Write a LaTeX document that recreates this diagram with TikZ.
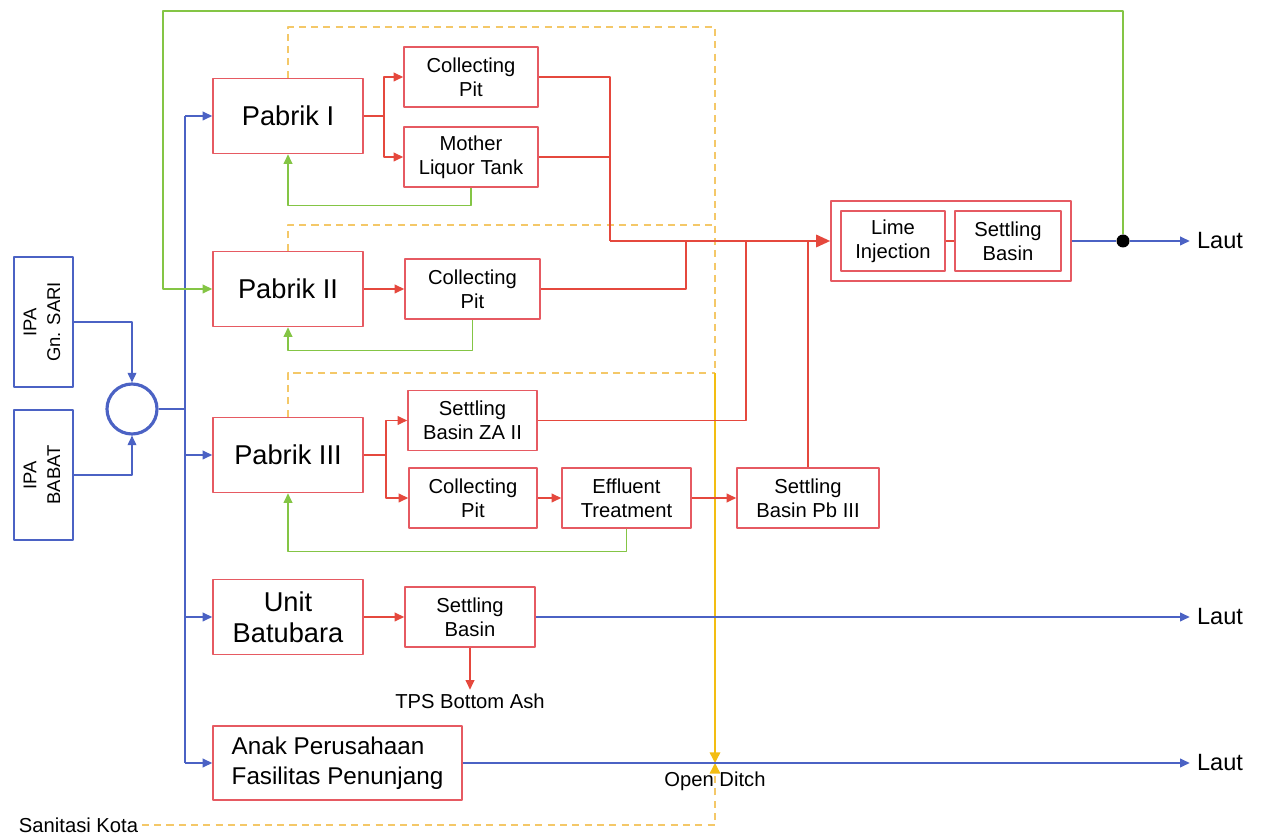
\documentclass[tikz,border=0pt]{standalone}
\usepackage{fontspec}
\setmainfont{Liberation Sans}
\usetikzlibrary{arrows.meta,positioning}

\definecolor{boxred}{HTML}{E65A62}
\definecolor{flowred}{HTML}{E5483D}
\definecolor{flowblue}{HTML}{4B62C4}
\definecolor{flowgreen}{HTML}{84C545}
\definecolor{dashyellow}{HTML}{F4C868}
\definecolor{ditchyellow}{HTML}{F3BD12}

\tikzset{
  unitbox/.style={draw=boxred, line width=0.9pt, fill=white, align=center, inner sep=1pt},
  plantbox/.style={unitbox, minimum width=3cm, minimum height=1.5cm, font=\fontsize{15.5}{17.6}\selectfont},
  pitbox/.style={unitbox, minimum width=2.68cm, minimum height=1.2cm, font=\fontsize{11.5}{13.6}\selectfont},
  ipabox/.style={draw=flowblue, line width=0.8pt, minimum width=1.18cm, minimum height=2.6cm, inner sep=0pt, font=\fontsize{10.5}{13.5}\selectfont},
  lbl/.style={inner sep=2pt, font=\fontsize{11.5}{13.6}\selectfont},
  lautlbl/.style={inner sep=4pt, font=\fontsize{13.4}{15}\selectfont},
  redline/.style={draw=flowred, line width=0.8pt},
  redflow/.style={redline, -{Triangle[length=5.5pt,width=5pt]}},
  mainflow/.style={draw=flowred, line width=1.3pt, -{Triangle[length=8pt,width=7pt]}},
  blueline/.style={draw=flowblue, line width=0.8pt},
  blueflow/.style={blueline, -{Triangle[length=5.5pt,width=5pt]}},
  greenflow/.style={draw=flowgreen, line width=0.8pt, -{Triangle[length=5.5pt,width=5pt]}},
  ydash/.style={draw=dashyellow, line width=0.8pt, dash pattern=on 4pt off 3pt},
  ditchflow/.style={draw=ditchyellow, line width=0.8pt, -{Triangle[length=6pt,width=6pt,color=ditchyellow]}}
}

\begin{document}
\begin{tikzpicture}[x=0.02cm, y=-0.02cm, line join=round]
  \useasboundingbox (0,0) rectangle (1265,837);
  % water sources
  \node[ipabox] (sari) at (43.5,322) {\rotatebox{90}{\begin{tabular}{@{}c@{}}IPA\\Gn. SARI\end{tabular}}};
  \node[ipabox] (babat) at (43.5,475) {\rotatebox{90}{\begin{tabular}{@{}c@{}}IPA\\BABAT\end{tabular}}};
  \node[circle, draw=flowblue, line width=1.8pt, minimum size=1cm, inner sep=0pt] (mix) at (132,409) {};
  % plants
  \node[plantbox] (p1) at (288,116) {Pabrik I};
  \node[plantbox] (p2) at (288,289) {Pabrik II};
  \node[plantbox] (p3) at (288,455) {Pabrik III};
  \node[plantbox] (ub) at (288,617) {Unit\\Batubara};
  \node[plantbox, minimum width=4.98cm, minimum height=1.48cm, align=left, font=\fontsize{13.8}{17}\selectfont] (anak) at (337.5,763) {Anak Perusahaan\\Fasilitas Penunjang};
  % 1st
  \node[pitbox] (cp1) at (471,77) {Collecting\\Pit};
  \node[pitbox] (mlt) at (471,157) {Mother\\Liquor Tank};
  % 2nd
  \node[pitbox, minimum width=2.7cm] (cp2) at (472.5,289) {Collecting\\Pit};
  % 3rd
  \node[pitbox, minimum width=2.58cm] (za) at (472.5,420.5) {Settling\\Basin ZA II};
  \node[pitbox, minimum width=2.56cm] (cp3) at (473,498) {Collecting\\Pit};
  \node[pitbox, minimum width=2.58cm] (eff) at (626.5,498) {Effluent\\Treatment};
  \node[pitbox, minimum width=2.84cm] (pb3) at (808,498) {Settling\\Basin Pb III};
  % batubara
  \node[pitbox, minimum width=2.6cm] (sbb) at (470,617) {Settling\\Basin};
  \node[lbl] (tps) at (470,701) {TPS Bottom Ash};
  % lime injection
  \node[unitbox, minimum width=4.8cm, minimum height=1.6cm] (limegroup) at (951,241) {};
  \node[pitbox, minimum width=2.08cm] (lime) at (893,241) {Lime\\Injection};
  \node[pitbox, minimum width=2.12cm] (sbright) at (1008,241) {Settling\\Basin};
  \node[circle, fill=black, minimum size=0.26cm, inner sep=0pt] (dot) at (1123,241) {};
  % outlets
  \node[lautlbl] (laut1) at (1220,241) {Laut};
  \node[lautlbl] (laut2) at (1220,617) {Laut};
  \node[lautlbl] (laut3) at (1220,763) {Laut};
  \node[lbl] (ditchlbl) at (715,781) {Open Ditch};
  \node[lbl] (sanitasi) at (78.5,825) {Sanitasi Kota};

  % junctions
  \coordinate (j1) at (384,116);
  \coordinate (j3) at (386,455);
  \coordinate (mainA) at (610,241);
  \coordinate (mainB) at (686,241);
  \coordinate (mainC) at (746,241);
  \coordinate (bus) at (185,409);
  \coordinate (bustop) at (185,116);
  \coordinate (busbot) at (185,763);
  \coordinate (loopcorner) at (163,11);
  \coordinate (ditchtop) at (715,27);
  \coordinate (ditch2) at (715,225);
  \coordinate (ditchmid) at (715,373);
  \coordinate (ditchin) at (715,763);

  % open ditch
  \draw[ydash] (p1.north) |- (ditchtop) -- (ditchmid);
  \draw[ydash] (p2.north) |- (ditch2);
  \draw[ydash] (p3.north) |- (ditchmid);
  \draw[ditchflow] (ditchmid) -- (ditchin);
  \draw[ydash, -{Triangle[length=6pt,width=6pt,color=ditchyellow]}] (sanitasi.east) -- (sanitasi.east -| ditchin) -- (ditchin);
  % water supply
  \draw[blueflow] (sari.east) -| (mix.north);
  \draw[blueflow] (babat.east) -| (mix.south);
  \draw[draw=flowblue, line width=1.6pt] (mix.east) -- (bus);
  \draw[blueline] (bustop) -- (busbot);
  \draw[blueflow] (bustop) -- (p1.west);
  \draw[blueflow] (bus |- p3.west) -- (p3.west);
  \draw[blueflow] (bus |- ub.west) -- (ub.west);
  \draw[blueflow] (busbot) -- (anak.west);
  % waste water
  \draw[redline] (p1.east) -- (j1);
  \draw[redflow] (j1) |- (cp1.west);
  \draw[redflow] (j1) |- (mlt.west);
  \draw[redflow] (p2.east) -- (cp2.west);
  \draw[redline] (p3.east) -- (j3);
  \draw[redflow] (j3) |- (za.west);
  \draw[redflow] (j3) |- (cp3.west);
  \draw[redflow] (cp3.east) -- (eff.west);
  \draw[redflow] (eff.east) -- (pb3.west);
  \draw[redflow] (ub.east) -- (sbb.west);
  \draw[redflow] (sbb.south) -- (tps.north);
  \draw[redline] (cp1.east) -| (mainA);
  \draw[redline] (mlt.east) -| (mainA);
  \draw[redline] (cp2.east) -| (mainB);
  \draw[redline] (za.east) -| (mainC);
  \draw[redline] (pb3.north) -- (pb3.north |- mainA);
  \draw[mainflow] (mainA) -- (limegroup.west);
  \draw[redline] (lime.east) -- (sbright.west);
  % to sea
  \draw[blueline] (limegroup.east) -- (dot);
  \draw[blueflow] (dot) -- (laut1.west);
  \draw[blueflow] (sbb.east) -- (laut2.west);
  \draw[blueflow] (anak.east) -- (laut3.west);
  % recycle
  \draw[greenflow] (dot) |- (loopcorner) |- (p2.west);
  \draw[greenflow] (mlt.south) -- ++(0,18) -| (p1.south);
  \draw[greenflow] (cp2.south) -- ++(0,31) -| (p2.south);
  \draw[greenflow] (eff.south) -- ++(0,23) -| (p3.south);
\end{tikzpicture}
\end{document}
